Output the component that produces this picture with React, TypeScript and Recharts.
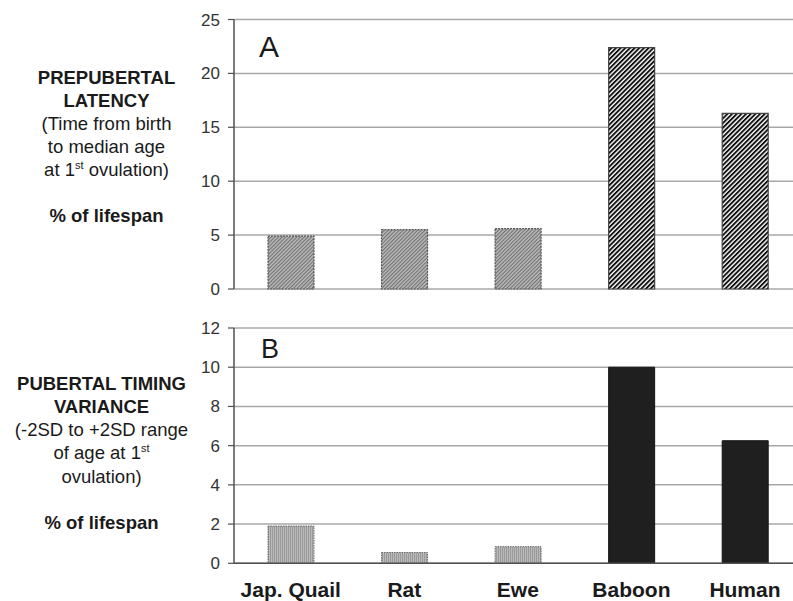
import React from "react";
import { BarChart, Bar, XAxis, YAxis, CartesianGrid, Cell } from "recharts";

const categories = ["Jap. Quail", "Rat", "Ewe", "Baboon", "Human"];
const latencyValues = [4.9, 5.5, 5.6, 22.4, 16.3];
const varianceValues = [1.9, 0.55, 0.85, 10.0, 6.25];
const latencyTicks = [0, 5, 10, 15, 20, 25];
const varianceTicks = [0, 2, 4, 6, 8, 10, 12];

const topData = categories.map((name, i) => ({ name, value: latencyValues[i] }));
const bottomData = categories.map((name, i) => ({ name, value: varianceValues[i] }));

const FONT = '"Liberation Sans", Arial, Helvetica, sans-serif';
const AXIS = "#505050";
const GRID = "#a8a8a8";

const topFill = (i: number) => (i < 3 ? "url(#hatchLight)" : "url(#hatchBold)");
const topStroke = (i: number) => (i < 3 ? "#555555" : "#444444");
const bottomFill = (i: number) => (i < 3 ? "url(#vertLight)" : "#1f1f1f");
const bottomStroke = (i: number) => (i < 3 ? "#6a6a6a" : "#141414");

export default function App() {
  return (
    <div
      style={{
        position: "absolute",
        left: 0,
        top: 0,
        width: 793,
        height: 601,
        overflow: "hidden",
        background: "#ffffff",
        fontFamily: FONT,
      }}
    >
      <svg width={0} height={0} style={{ position: "absolute" }}>
        <defs>
          <pattern id="hatchLight" patternUnits="userSpaceOnUse" width={2.6} height={2.6} patternTransform="rotate(45)">
            <rect x={0} y={0} width={2.6} height={2.6} fill="#bcbcbc" />
            <rect x={0} y={0} width={1.1} height={2.6} fill="#6e6e6e" />
          </pattern>
          <pattern id="hatchBold" patternUnits="userSpaceOnUse" width={3.3} height={3.3} patternTransform="rotate(45)">
            <rect x={0} y={0} width={3.3} height={3.3} fill="#ffffff" />
            <rect x={0} y={0} width={1.9} height={3.3} fill="#101010" />
          </pattern>
          <pattern id="vertLight" patternUnits="userSpaceOnUse" width={2} height={2}>
            <rect x={0} y={0} width={2} height={2} fill="#b9b9b9" />
            <rect x={0} y={0} width={0.8} height={2} fill="#929292" />
          </pattern>
        </defs>
      </svg>

      <div style={{ position: "absolute", left: 0, top: 0 }}>
        <BarChart
          width={810}
          height={300}
          data={topData}
          margin={{ top: 19.5, right: 8.25, bottom: 11, left: 0 }}
        >
          <CartesianGrid vertical={false} stroke={GRID} strokeWidth={1.5} />
          <XAxis
            dataKey="name"
            height={0}
            tick={false}
            tickLine={false}
            axisLine={{ stroke: AXIS, strokeWidth: 1.5 }}
          />
          <YAxis
            width={234}
            domain={[0, 25]}
            ticks={latencyTicks}
            interval={0}
            tickSize={6}
            tickMargin={8}
            axisLine={{ stroke: AXIS, strokeWidth: 1.5 }}
            tickLine={{ stroke: AXIS, strokeWidth: 1.2 }}
            tick={{ fill: "#333333", fontSize: 17, fontFamily: FONT }}
          />
          <Bar dataKey="value" barSize={46} isAnimationActive={false}>
            {topData.map((d, i) => (
              <Cell
                key={d.name}
                fill={topFill(i)}
                stroke={topStroke(i)}
                strokeWidth={1.2}
                strokeDasharray={i < 3 ? "2 1" : undefined}
              />
            ))}
          </Bar>
        </BarChart>
      </div>

      <div style={{ position: "absolute", left: 0, top: 300 }}>
        <BarChart
          width={810}
          height={301}
          data={bottomData}
          margin={{ top: 28, right: 8.25, bottom: 0, left: 0 }}
        >
          <CartesianGrid vertical={false} stroke={GRID} strokeWidth={1.5} />
          <XAxis
            dataKey="name"
            height={37.7}
            interval={0}
            tickLine={false}
            tickSize={6}
            tickMargin={13}
            axisLine={{ stroke: AXIS, strokeWidth: 1.5 }}
            tick={{ fill: "#1a1a1a", fontSize: 21, fontWeight: "bold", fontFamily: FONT }}
          />
          <YAxis
            width={234}
            domain={[0, 12]}
            ticks={varianceTicks}
            interval={0}
            tickSize={6}
            tickMargin={8}
            axisLine={{ stroke: AXIS, strokeWidth: 1.5 }}
            tickLine={{ stroke: AXIS, strokeWidth: 1.2 }}
            tick={{ fill: "#333333", fontSize: 17, fontFamily: FONT }}
          />
          <Bar dataKey="value" barSize={46} isAnimationActive={false}>
            {bottomData.map((d, i) => (
              <Cell
                key={d.name}
                fill={bottomFill(i)}
                stroke={bottomStroke(i)}
                strokeWidth={1}
                strokeDasharray={i < 3 ? "1.5 1" : undefined}
              />
            ))}
          </Bar>
        </BarChart>
      </div>

      <svg
        width={793}
        height={601}
        style={{ position: "absolute", left: 0, top: 0, pointerEvents: "none" }}
        fontFamily={FONT}
      >
        <text x={259} y={56.5} fontSize={30} fill="#1a1a1a">A</text>
        <text x={261} y={357.5} fontSize={27} fill="#1a1a1a">B</text>

        <g textAnchor="middle" fontSize={18.5} fill="#1a1a1a">
          <text x={106.5} y={83.5} fontWeight="bold">PREPUBERTAL</text>
          <text x={106.5} y={106.5} fontWeight="bold">LATENCY</text>
          <text x={106.5} y={129.5}>(Time from birth</text>
          <text x={106.5} y={152.5}>to median age</text>
          <text x={106.5} y={175.5}>
            at 1<tspan fontSize={11} dy={-7}>st</tspan>
            <tspan dy={7}> ovulation)</tspan>
          </text>
          <text x={106.5} y={221.5} fontWeight="bold">% of lifespan</text>

          <text x={101.5} y={389.6} fontWeight="bold">PUBERTAL TIMING</text>
          <text x={101.5} y={412.9} fontWeight="bold">VARIANCE</text>
          <text x={101.5} y={436.1}>(-2SD to +2SD range</text>
          <text x={101.5} y={459.4}>
            of age at 1<tspan fontSize={11} dy={-7}>st</tspan>
          </text>
          <text x={101.5} y={482.6}>ovulation)</text>
          <text x={101.5} y={529.1} fontWeight="bold">% of lifespan</text>
        </g>
      </svg>
    </div>
  );
}
